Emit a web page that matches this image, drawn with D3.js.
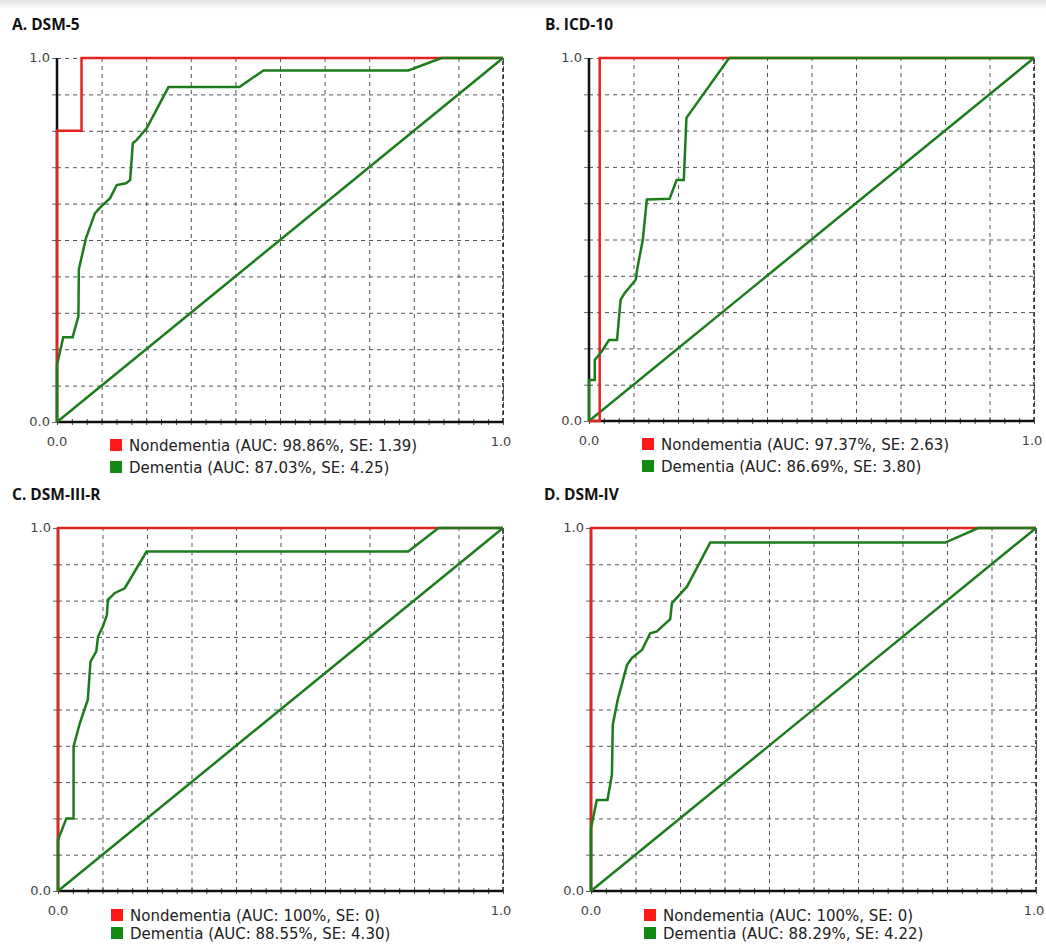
<!DOCTYPE html>
<html>
<head>
<meta charset="utf-8">
<script src="https://cdn.jsdelivr.net/npm/d3@7"></script>
<style>
body { margin:0; background:#fff; }
svg { display:block; }
.title { font-family:"Open Sans", sans-serif; font-weight:bold; font-size:15.5px; fill:#111; }
.tick-lbl { font-family:"DejaVu Sans", sans-serif; font-size:13px; fill:#444; }
.legend { font-family:"DejaVu Sans", sans-serif; font-size:15px; fill:#222; }
</style>
</head>
<body>
<div id="chart"></div>
<script>
// ---- data ----
var titles = ["A. DSM-5", "B. ICD-10", "C. DSM-III-R", "D. DSM-IV"];
var nondementiaLabels = [
  "Nondementia (AUC: 98.86%, SE: 1.39)",
  "Nondementia (AUC: 97.37%, SE: 2.63)",
  "Nondementia (AUC: 100%, SE: 0)",
  "Nondementia (AUC: 100%, SE: 0)"
];
var dementiaLabels = [
  "Dementia (AUC: 87.03%, SE: 4.25)",
  "Dementia (AUC: 86.69%, SE: 3.80)",
  "Dementia (AUC: 88.55%, SE: 4.30)",
  "Dementia (AUC: 88.29%, SE: 4.22)"
];
var tickLabels = ["0.0", "1.0"];
var gridSteps = [0, 0.1, 0.2, 0.3, 0.4, 0.5, 0.6, 0.7, 0.8, 0.9, 1];
var chance = [[0, 0], [1, 1]];

// [1 - specificity, sensitivity]
var nondementiaA = [[0,0],[0,0.8],[0.055,0.8],[0.055,1],[1,1]];
var nondementiaB = [[0,0],[0.024,0],[0.024,1],[1,1]];
var nondementiaC = [[0,0],[0,1],[1,1]];
var nondementiaD = [[0,0],[0,1],[1,1]];

var dementiaA = [[0,0],[0,0.157],[0.014,0.233],[0.035,0.233],[0.048,0.29],[0.049,0.42],
  [0.065,0.505],[0.085,0.573],[0.096,0.588],[0.119,0.615],[0.134,0.651],[0.155,0.656],
  [0.164,0.665],[0.17,0.766],[0.179,0.775],[0.201,0.807],[0.25,0.92],[0.409,0.92],
  [0.463,0.966],[0.788,0.966],[0.862,1],[1,1]];
var dementiaB = [[0,0],[0,0.113],[0.013,0.113],[0.013,0.168],[0.028,0.191],[0.045,0.223],
  [0.063,0.223],[0.071,0.334],[0.08,0.352],[0.105,0.389],[0.108,0.416],[0.121,0.5],
  [0.125,0.55],[0.13,0.61],[0.181,0.612],[0.197,0.664],[0.213,0.664],[0.219,0.835],
  [0.315,1],[1,1]];
var dementiaC = [[0,0],[0,0.141],[0.019,0.2],[0.035,0.2],[0.035,0.398],[0.049,0.462],
  [0.067,0.527],[0.073,0.632],[0.086,0.66],[0.09,0.701],[0.101,0.729],[0.11,0.761],
  [0.112,0.802],[0.128,0.821],[0.15,0.834],[0.199,0.935],[0.787,0.935],[0.855,1],[1,1]];
var dementiaD = [[0,0],[0,0.173],[0.013,0.251],[0.037,0.251],[0.047,0.32],[0.049,0.458],
  [0.06,0.527],[0.081,0.623],[0.092,0.642],[0.115,0.665],[0.133,0.71],[0.148,0.715],
  [0.178,0.749],[0.182,0.793],[0.216,0.839],[0.268,0.96],[0.796,0.96],[0.87,1],[1,1]];

var nondementia = [nondementiaA, nondementiaB, nondementiaC, nondementiaD];
var dementia = [dementiaA, dementiaB, dementiaC, dementiaD];

// ---- layout ----
var width = 1046, height = 944;
var panels = [
  {x:57,  y:58,  w:446, h:364, titleX:12,  leg:[29, 51]},
  {x:589, y:58,  w:445, h:363, titleX:545, leg:[29, 51]},
  {x:58,  y:528, w:445, h:363, titleX:12,  leg:[30, 48]},
  {x:591, y:528, w:445, h:363, titleX:544, leg:[30, 48]}
];
var RED = "#e8221f", GREEN = "#1c7c1c";
var minorTicks = d3.range(0, 31).map(function(k) { return k / 30; });

var svg = d3.select("#chart").append("svg")
    .attr("width", width)
    .attr("height", height);

// faint shadow band at the very top
var grad = svg.append("defs").append("linearGradient")
    .attr("id", "topband").attr("x1", 0).attr("x2", 0).attr("y1", 0).attr("y2", 1);
grad.append("stop").attr("offset", "0%").attr("stop-color", "#e2e2e2");
grad.append("stop").attr("offset", "100%").attr("stop-color", "#ffffff");
svg.append("rect").attr("x", 0).attr("y", 0).attr("width", width).attr("height", 9)
    .attr("fill", "url(#topband)");

panels.forEach(function(p, i) {
  var x = d3.scaleLinear().domain([0, 1]).range([p.x, p.x + p.w]);
  var y = d3.scaleLinear().domain([0, 1]).range([p.y + p.h, p.y]);
  var g = svg.append("g");

  g.append("text")
    .attr("class", "title")
    .attr("x", p.titleX)
    .attr("y", p.y - 28)
    .text(titles[i]);

  // dashed grid (vertical + horizontal) via axes
  g.append("g")
    .attr("transform", "translate(0," + (p.y + p.h) + ")")
    .call(d3.axisBottom(x).tickValues(gridSteps.slice(1)).tickSize(-p.h).tickFormat(""))
    .call(function(a) {
      a.select(".domain").remove();
      a.selectAll("line").attr("stroke", "#555").attr("stroke-dasharray", "4,4");
    });
  g.append("g")
    .attr("transform", "translate(" + p.x + ",0)")
    .call(d3.axisLeft(y).tickValues(gridSteps.slice(1)).tickSize(-p.w).tickFormat(""))
    .call(function(a) {
      a.select(".domain").remove();
      a.selectAll("line").attr("stroke", "#555").attr("stroke-dasharray", "4,4");
    });
  // right border darker dash
  g.append("line")
    .attr("x1", x(1)).attr("x2", x(1)).attr("y1", y(0)).attr("y2", y(1))
    .attr("stroke", "#222").attr("stroke-width", 1.5).attr("stroke-dasharray", "4,3");

  // left ticks
  g.append("g")
    .attr("transform", "translate(" + p.x + ",0)")
    .call(d3.axisLeft(y).tickValues(gridSteps).tickSize(5).tickFormat(""))
    .call(function(a) {
      a.select(".domain").remove();
      a.selectAll("line").attr("stroke", "#666");
    });
  // bottom small ticks, crossing the axis line
  g.append("g")
    .attr("transform", "translate(0," + (p.y + p.h - 3) + ")")
    .call(d3.axisBottom(x).tickValues(minorTicks).tickSize(6).tickFormat(""))
    .call(function(a) {
      a.select(".domain").remove();
      a.selectAll("line").attr("stroke", "#444");
    });

  // solid axes
  g.append("line")
    .attr("x1", x(0)).attr("x2", x(0)).attr("y1", y(0)).attr("y2", y(1))
    .attr("stroke", "#111").attr("stroke-width", 2.5);
  g.append("line")
    .attr("x1", x(0)).attr("x2", x(1)).attr("y1", y(0)).attr("y2", y(0))
    .attr("stroke", "#111").attr("stroke-width", 2.5);

  // tick labels
  g.append("text").attr("class", "tick-lbl")
    .attr("x", x(0) - 7).attr("y", y(1) + 4).attr("text-anchor", "end").text(tickLabels[1]);
  g.append("text").attr("class", "tick-lbl")
    .attr("x", x(0) - 7).attr("y", y(0) + 4).attr("text-anchor", "end").text(tickLabels[0]);
  g.append("text").attr("class", "tick-lbl")
    .attr("x", x(0)).attr("y", y(0) + 24).attr("text-anchor", "middle").text(tickLabels[0]);
  g.append("text").attr("class", "tick-lbl")
    .attr("x", x(1) - 2).attr("y", y(0) + 24).attr("text-anchor", "middle").text(tickLabels[1]);

  var line = d3.line()
    .x(function(d) { return x(d[0]); })
    .y(function(d) { return y(d[1]); });

  g.append("path").datum(chance)
    .attr("fill", "none").attr("stroke", GREEN).attr("stroke-width", 2.5)
    .attr("d", line);
  g.append("path").datum(nondementia[i])
    .attr("fill", "none").attr("stroke", RED).attr("stroke-width", 2.5)
    .attr("d", line);
  g.append("path").datum(dementia[i])
    .attr("fill", "none").attr("stroke", GREEN).attr("stroke-width", 2.5)
    .attr("d", line);

  // legend
  var legX = p.x + 53;
  var items = [
    {c: "#ff1a1a", t: nondementiaLabels[i], dy: p.leg[0]},
    {c: "#138a13", t: dementiaLabels[i], dy: p.leg[1]}
  ];
  items.forEach(function(it) {
    var base = p.y + p.h + it.dy;
    g.append("rect")
      .attr("x", legX).attr("y", base - 12)
      .attr("width", 12).attr("height", 12)
      .attr("fill", it.c);
    g.append("text").attr("class", "legend")
      .attr("x", legX + 19).attr("y", base)
      .text(it.t);
  });
});
</script>
</body>
</html>
